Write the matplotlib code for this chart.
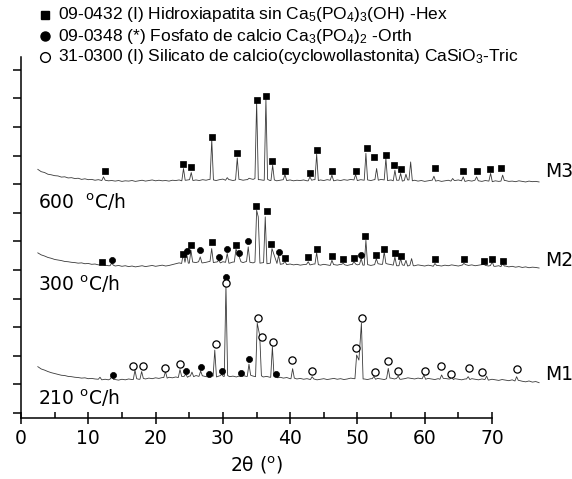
import matplotlib
matplotlib.use("Agg")
import matplotlib.pyplot as plt
from matplotlib.lines import Line2D
import numpy as np

plt.rcParams['font.family'] = 'DejaVu Sans'
plt.rcParams['mathtext.default'] = 'regular'

# values, in the units of the drawn axes
# (x = 2theta scale of the axis, y = one tick step)
bg_start = 2.5
bg_step = 0.5

# background of each pattern, hundredths of a tick step, every 0.5 deg
m3_bg = [41, 33, 30, 24, 22, 19, 18, 14, 15, 11, 12, 9, 10, 6, 8, 5, 6, 3, 5, 2,
         3, 1, 2, 0, 2, -1, 1, 0, 2, -1, 1, 3, 0, 2, 4, 1, 3, 1, 2, 0,
         3, 2, 4, 1, 3, 5, 2, 4, 2, 5, 3, 6, 4, 2, 5, 7, 3, 5, 2, 4,
         6, 3, 5, 8, 6, 9, 5, 3, 6, 2, 4, 1, 3, 5, 2, 4, 1, 3, 2, 4,
         1, 3, 5, 2, 4, 2, 5, 3, 1, 4, 2, 5, 3, 6, 4, 2, 5, 3, 4, 2,
         5, 3, 6, 4, 2, 4, 1, 3, 0, 2, 4, 1, 3, 0, 2, -1, 1, 3, 0, 2,
         -1, 1, 3, 0, 2, 4, 1, -1, 2, 0, 3, 1, -1, 2, 0, -2, 1, -1, 0, 2,
         -1, 0, -2, 1, -1, -3, 0, -2, -1, -3]
m2_bg = [43, 36, 32, 27, 24, 20, 18, 16, 13, 12, 10, 9, 7, 8, 5, 6, 3, 4, 1, 2,
         0, -2, 0, -3, -1, -4, -2, -5, -3, -6, -4, -2, -5, -3, -1, -4, -2, 0, -3, -1,
         2, 5, 8, 6, 10, 7, 11, 9, 12, 8, 10, 13, 9, 11, 8, 12, 10, 7, 11, 9,
         12, 9, 13, 10, 8, 11, 7, 9, 5, 7, 4, 6, 3, 5, 2, 4, 1, 3, 0, 2,
         3, 1, 4, 2, 0, 3, 1, -1, 2, 0, 3, 1, -1, 2, 4, 1, 3, 0, 2, -1,
         2, 5, 3, 6, 4, 2, 0, -2, 1, -1, -3, 0, -2, 1, -1, -3, 0, -2, -4, -1,
         -3, 0, -2, 1, -1, -3, 0, 2, -1, 1, -2, 0, 2, -1, -3, -1, -4, -2, -5, -3,
         -6, -4, -7, -5, -8, -6, -9, -7, -8, -10]
m1_bg = [43, 35, 31, 26, 22, 19, 16, 13, 12, 9, 8, 6, 5, 3, 4, 1, 2, 0, -1, -3,
         -1, -3, 0, -2, -4, -1, -3, 0, -2, 1, -1, 2, 0, 3, 1, 4, 2, 5, 3, 6,
         4, 7, 5, 9, 6, 10, 8, 12, 9, 11, 8, 13, 10, 7, 11, 9, 12, 8, 10, 7,
         10, 12, 9, 13, 10, 8, 11, 7, 9, 6, 8, 4, 6, 3, 5, 1, 3, 0, 2, -1,
         1, -2, 0, -3, -1, 1, -2, 0, 2, -1, 1, -2, 0, 3, 1, -1, 2, 0, -2, 1,
         -1, 2, 0, -2, 1, 3, 0, 2, -1, 1, 4, 2, 0, 3, 1, -1, 2, 0, -2, 1,
         -1, 2, 0, -2, 1, -1, -3, 0, -2, 1, -1, -3, 0, -2, -4, -1, -3, -5, -2, -4,
         -6, -3, -7, -5, -8, -10, -7, -11, -9, -13]

# peaks: (position, height above the pattern baseline)
m3_peaks = [(12.26, 0.15), (24.15, 0.44), (25.30, 0.30), (28.35, 1.45), (30.65, 0.12),
            (32.14, 0.81), (33.90, 0.10), (35.02, 2.77), (36.40, 2.87), (37.40, 0.56),
            (39.23, 0.23), (42.94, 0.15), (43.94, 0.94), (46.21, 0.21), (49.73, 0.23),
            (51.26, 0.97), (52.85, 0.44), (54.23, 0.80), (55.57, 0.38), (56.42, 0.27),
            (57.21, 0.24), (57.91, 0.67), (61.37, 0.17), (64.15, 0.09), (65.72, 0.15),
            (67.71, 0.15), (69.79, 0.27), (71.58, 0.21)]
m2_peaks = [(11.99, 0.07), (13.48, 0.07), (24.12, 0.41), (24.62, 0.41), (25.26, 0.52),
            (26.64, 0.29), (28.34, 0.58), (29.38, 0.17), (30.65, 0.41), (31.95, 0.56),
            (32.44, 0.29), (33.77, 0.64), (35.02, 1.92), (35.26, 1.69), (36.30, 1.69),
            (37.30, 0.58), (37.79, 0.23), (38.29, 0.35), (39.23, 0.14), (42.69, 0.12),
            (43.94, 0.44), (46.21, 0.17), (47.89, 0.06), (49.48, 0.13), (50.56, 0.23),
            (51.26, 0.87), (52.81, 0.23), (53.98, 0.47), (55.57, 0.29), (56.42, 0.23),
            (57.21, 0.17), (58.05, 0.23), (61.52, 0.06), (65.82, 0.06), (68.80, 0.03),
            (70.03, 0.12), (71.58, 0.06)]
m1_peaks = [(11.74, 0.06), (13.52, 0.10), (16.94, 0.31), (17.93, 0.26), (21.47, 0.26),
            (23.63, 0.33), (24.49, 0.17), (25.41, 0.24), (26.70, 0.28), (27.98, 0.08),
            (28.80, 1.01), (29.82, 0.16), (30.46, 3.27), (32.64, 0.09), (33.88, 0.52),
            (35.11, 1.95), (35.48, 1.52), (37.36, 1.13), (37.90, 0.09), (40.37, 0.36),
            (43.27, 0.08), (49.88, 0.84), (50.22, 0.66), (50.59, 1.95), (52.45, 0.09),
            (54.58, 0.37), (56.06, 0.10), (59.88, 0.14), (62.51, 0.14), (64.00, 0.08),
            (66.46, 0.08), (69.20, 0.10), (73.66, 0.08)]

# phase marks: (position, height above the pattern baseline)
m3_hex = [(12.44, 0.37), (24.07, 0.61), (25.30, 0.51), (28.38, 1.54), (32.14, 0.98),
          (35.02, 2.84), (36.40, 2.96), (37.37, 0.71), (39.18, 0.35), (42.94, 0.27),
          (43.94, 1.08), (46.21, 0.34), (49.75, 0.36), (51.37, 1.15), (52.50, 0.83),
          (54.23, 0.92), (55.50, 0.58), (56.42, 0.41), (61.52, 0.47), (65.65, 0.35),
          (67.71, 0.34), (69.72, 0.43), (71.37, 0.47)]
m2_hex = [(11.99, 0.10), (24.03, 0.40), (25.26, 0.69), (28.43, 0.81), (31.95, 0.70),
          (34.96, 2.07), (36.51, 1.89), (37.19, 0.73), (39.20, 0.24), (42.69, 0.29),
          (43.95, 0.58), (46.18, 0.32), (47.89, 0.20), (49.48, 0.26), (51.16, 1.02),
          (52.79, 0.37), (53.94, 0.57), (55.53, 0.43), (56.42, 0.33), (61.52, 0.23),
          (65.82, 0.22), (68.80, 0.16), (70.03, 0.23), (71.58, 0.15)]
m2_orth = [(13.48, 0.17), (24.62, 0.50), (26.64, 0.52), (29.38, 0.27), (30.65, 0.55),
           (32.44, 0.41), (33.77, 0.84), (38.29, 0.47), (50.56, 0.37)]
m1_orth = [(13.63, 0.15), (24.52, 0.29), (26.70, 0.41), (27.98, 0.19), (29.82, 0.27),
           (30.46, 3.56), (32.64, 0.20), (33.88, 0.69), (37.93, 0.18)]
m1_tric = [(16.60, 0.47), (18.08, 0.47), (21.43, 0.40), (23.70, 0.53), (28.97, 1.22),
           (30.46, 3.35), (35.16, 2.14), (35.81, 1.48), (37.40, 1.29), (40.27, 0.65),
           (43.27, 0.29), (49.81, 1.09), (50.62, 2.12), (52.56, 0.26), (54.58, 0.64),
           (56.06, 0.29), (60.03, 0.29), (62.45, 0.45), (63.89, 0.17), (66.52, 0.40),
           (68.45, 0.26), (73.66, 0.35)]

names = ['M3', 'M2', 'M1']
rates = ['600  $^{o}$C/h', '300 $^{o}$C/h', '210 $^{o}$C/h']
legend_txt = ['09-0432 (I) Hidroxiapatita sin Ca$_5$(PO$_4$)$_3$(OH) -Hex',
              '09-0348 (*) Fosfato de calcio Ca$_3$(PO$_4$)$_2$ -Orth',
              '31-0300 (I) Silicato de calcio(cyclowollastonita) CaSiO$_3$-Tric']

# stacking offsets
offsets = {'M3': 8.11, 'M2': 5.17, 'M1': 1.19}


def xrd_line(bg, peaks, w=0.25):
    gx = bg_start + bg_step * np.arange(len(bg))
    gy = np.array(bg) / 100.0
    pos = [p for p, h in peaks]
    xs, ys = [], []
    for x, y in zip(gx, gy):
        if all(abs(x - p) >= w for p in pos):
            xs.append(x)
            ys.append(y)
    for p, h in peaks:
        xs.append(p)
        ys.append(h)
        for f in (p - w, p + w):
            if all(abs(f - q) >= w for q in pos if q != p):
                xs.append(f)
                ys.append(gy[np.argmin(abs(gx - f))])
    order = np.argsort(xs)
    return np.array(xs)[order], np.array(ys)[order]


sq = dict(marker='s', ms=4.2, mfc='black', mec='black', mew=0.5)
dot = dict(marker='o', ms=4.4, mfc='black', mec='black', mew=0.5)
ring = dict(marker='o', ms=5.2, mfc='white', mec='black', mew=0.9)

fig = plt.figure(figsize=(5.72, 4.79), dpi=100)
ax = fig.add_axes([21 / 572, 61 / 479, 471 / 572, 361 / 479])

patterns = {'M3': (m3_bg, m3_peaks), 'M2': (m2_bg, m2_peaks), 'M1': (m1_bg, m1_peaks)}
for name in names:
    bg, peaks = patterns[name]
    x, y = xrd_line(bg, peaks)
    ax.plot(x, y + offsets[name], color='#3a3a3a', lw=0.6, clip_on=False)

marks = [('M3', m3_hex, sq), ('M2', m2_hex, sq), ('M2', m2_orth, dot),
         ('M1', m1_orth, dot), ('M1', m1_tric, ring)]
for name, mk, style in marks:
    ax.plot([m[0] for m in mk], [m[1] + offsets[name] for m in mk],
            ls='none', clip_on=False, zorder=3, **style)

# sample names on the right, heating rates on the left
label_y = {'M3': 8.46, 'M2': 5.35, 'M1': 1.33}
rate_y = [7.38, 4.50, 0.50]
for i, name in enumerate(names):
    ax.text(77.9, label_y[name], name, fontsize=13.5, va='center', ha='left')
    ax.text(2.6, rate_y[i], rates[i], fontsize=13.5, va='center', ha='left')

ax.set_xlim(0, 70)
ax.set_ylim(-0.175, 12.45)
ax.set_xticks(range(0, 71, 10))
ax.set_xticks(range(5, 70, 10), minor=True)
ax.set_yticks(range(13))
ax.set_yticklabels([])
ax.tick_params(axis='x', which='major', direction='inout', length=8, width=1.1,
               labelsize=13.5, pad=4)
ax.tick_params(axis='x', which='minor', direction='in', length=4, width=1.1)
ax.tick_params(axis='y', direction='out', length=6, width=1.1)
for s in ['top', 'right']:
    ax.spines[s].set_visible(False)
for s in ['left', 'bottom']:
    ax.spines[s].set_linewidth(1.1)
ax.set_xlabel('2θ ($^{o}$)', fontsize=13.5, labelpad=5)

# phase key at the top
key_y = [15, 36, 57]
key_style = [dict(marker='s', ms=6, mfc='black', mec='black'),
             dict(marker='o', ms=6.5, mfc='black', mec='black'),
             dict(marker='o', ms=7, mfc='white', mec='black', mew=1.0)]
for i in range(3):
    yy = 1 - key_y[i] / 479
    fig.add_artist(Line2D([45 / 572], [yy], transform=fig.transFigure, ls='none', **key_style[i]))
    fig.text(58 / 572, yy, legend_txt[i], fontsize=12.5, family='Liberation Sans',
             va='center', ha='left')

fig.savefig('out.png', dpi=100)
